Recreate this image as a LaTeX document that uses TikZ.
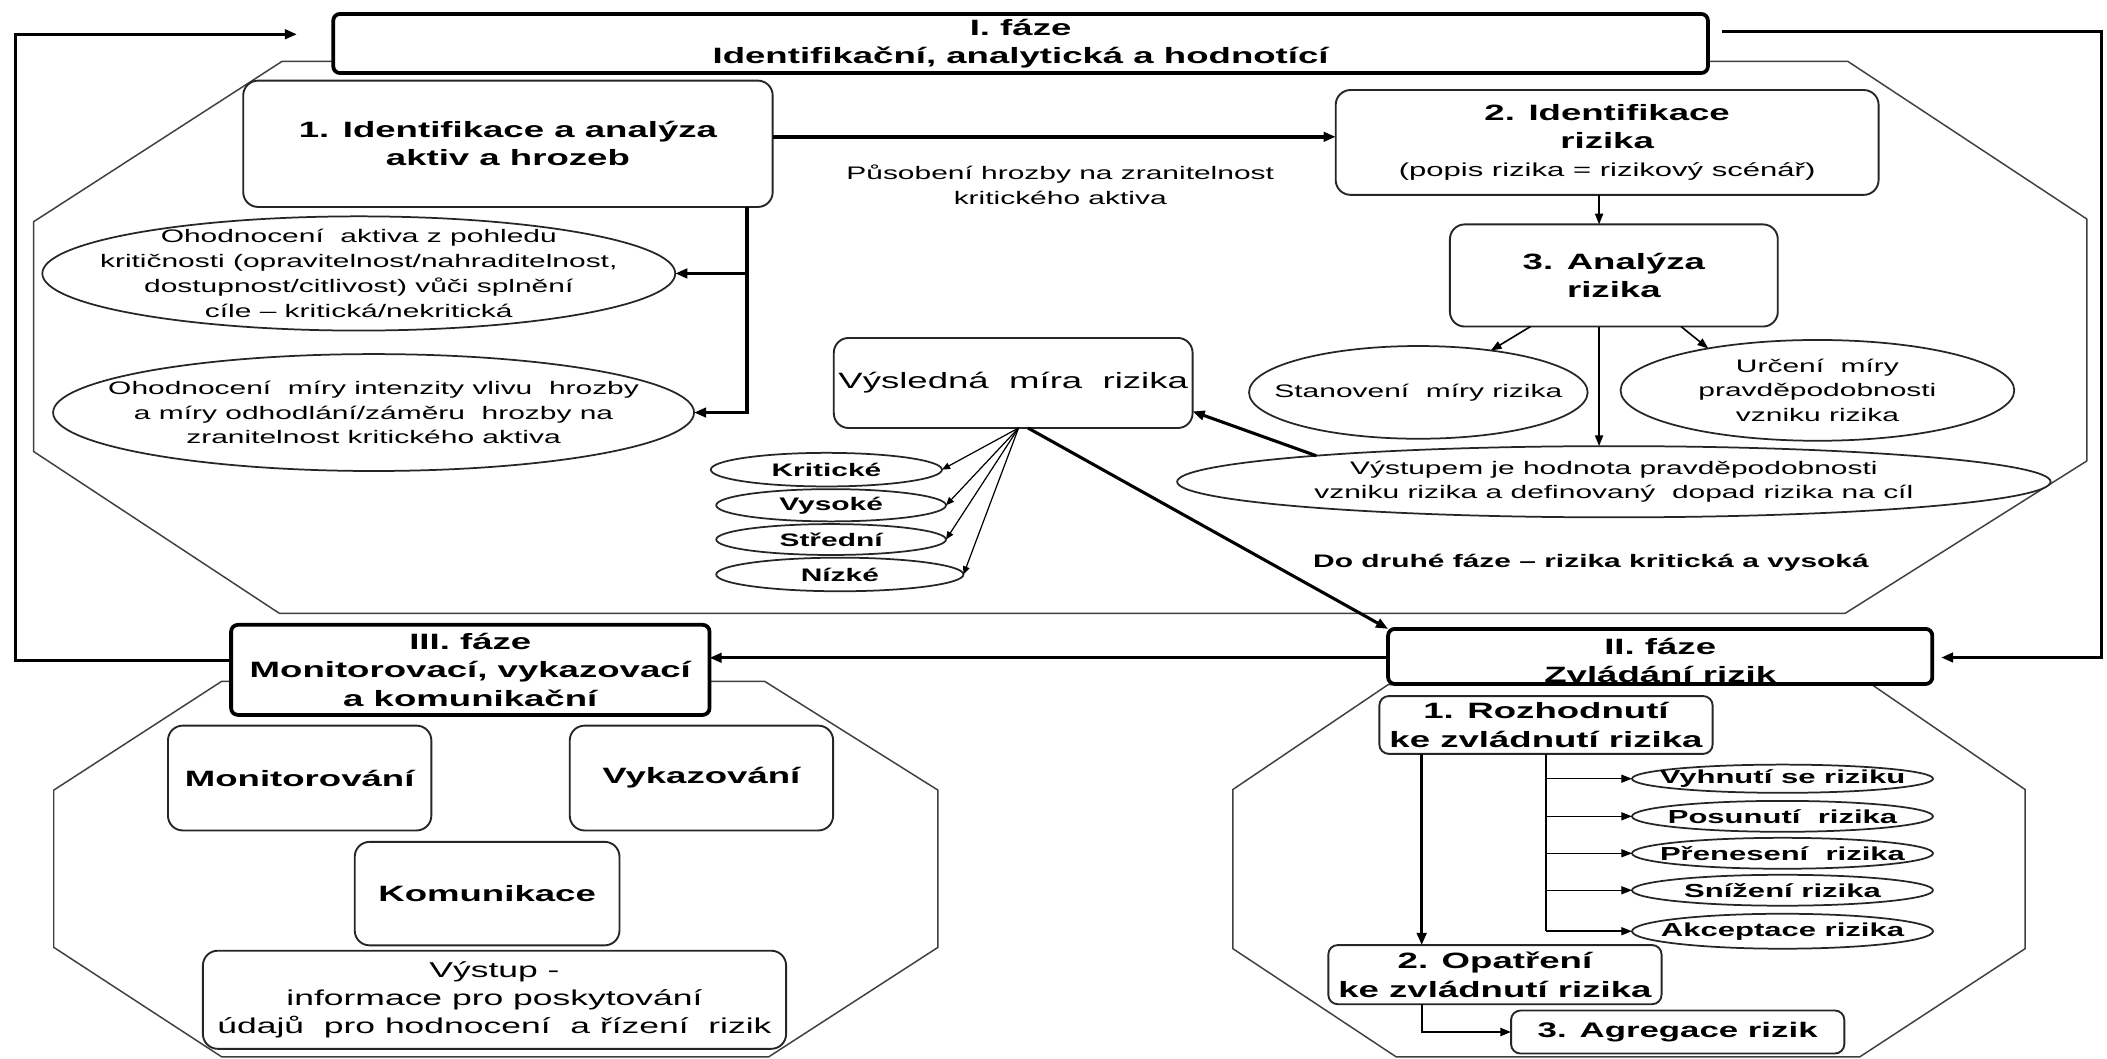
\documentclass[tikz,border=0pt]{standalone}
\usepackage{fontspec}
\setmainfont{Liberation Sans}[FakeStretch=1.65]
\usetikzlibrary{arrows.meta,shapes.geometric,calc}
\newcommand\fTitle{\fontsize{16.5}{21}\selectfont\bfseries}
\newcommand\fNorm{\fontsize{13.5}{18.5}\selectfont}
\newcommand\fNormB{\fontsize{13.5}{18.5}\selectfont\bfseries}
\newcommand\fOpt{\fontsize{14}{17}\selectfont\bfseries}
\begin{document}
\begin{tikzpicture}[x=1pt,y=-1pt,
  every node/.style={inner sep=0pt,outer sep=0pt,text=black},
  phasebox/.style={draw=black,line width=2.8pt,rounded corners=5pt,fill=white,align=center,font=\fTitle},
  innerbox/.style={draw=black!85,line width=1.4pt,rounded corners=11pt,fill=white,align=center},
  oval/.style={draw=black!85,line width=1.3pt,ellipse,fill=white},
  ltxt/.style={align=center,font=\fNorm},
  ltxtb/.style={align=center,font=\fNormB},
  otxt/.style={align=center,font=\fOpt},
  oct/.style={draw=black!75,line width=1.1pt},
  fb/.style={line width=2.4pt,-{Triangle[length=9pt,width=7pt]}},
  thk/.style={line width=2.6pt,-{Triangle[length=9pt,width=7pt]}},
  arr/.style={line width=1.2pt,-{Triangle[length=8pt,width=6pt]}},
  fan/.style={line width=0.9pt,-{Triangle[length=6pt,width=5pt]}}
]
\useasboundingbox[fill=white] (0,0) rectangle (1568,788);

% octagons
\draw[oct] (210,45.6) -- (25,165) -- (25,336) -- (208,456.5) -- (1373,456.5) -- (1553,343) -- (1553,163) -- (1375,45.6) -- cycle;
\draw[oct] (165,507) -- (40,588) -- (40,705) -- (165,786.5) -- (572,786.5) -- (698,705) -- (698,588) -- (569,507) -- cycle;
\draw[oct] (1033,509.5) -- (917.5,587.5) -- (917.5,706) -- (1039,786.5) -- (1384,786.5) -- (1507,706) -- (1507,587.5) -- (1393,509.5) -- cycle;

% phase boxes
\node[phasebox,minimum width=1023pt,minimum height=44pt] (T) at (759.5,32.35) {I. fáze\\Identifikační, analytická a hodnotící};
\node[phasebox,minimum width=356pt,minimum height=67pt] (III) at (350,498.5) {III. fáze\\Monitorovací, vykazovací\\a komunikační};
\node[phasebox,minimum width=405pt,minimum height=41pt] (II) at (1235.5,488.5) {};
\node[align=center,font=\fTitle] (IIt) at (1235.5,491.5) {II. fáze\\Zvládání rizik};

% phase I content
\node[innerbox,minimum width=394pt,minimum height=94pt,font=\fTitle] (B1) at (378,107) {1. Identifikace a analýza\\aktiv a hrozeb};
\node[innerbox,minimum width=404pt,minimum height=78pt,font=\fTitle] (B2) at (1196,106) {2. Identifikace\\rizika\\\fontsize{14}{19}\selectfont\mdseries (popis rizika = rizikový scénář)};
\node[innerbox,minimum width=244pt,minimum height=76pt,font=\fTitle] (B3) at (1201,205) {3. Analýza\\rizika};
\node[ltxt] (lbl1) at (789,137.5) {Působení hrozby na zranitelnost\\kritického aktiva};
\node[oval,minimum width=471pt,minimum height=85pt,label={[ltxt]center:{Ohodnocení\ \ aktiva z pohledu\\kritičnosti (opravitelnost/nahraditelnost,\\dostupnost/citlivost) vůči splnění\\cíle – kritická/nekritická}}] (E1) at (267,203.5) {};
\node[oval,minimum width=477pt,minimum height=87pt,label={[ltxt]center:{Ohodnocení\ \ míry intenzity vlivu\ \ hrozby\\a míry odhodlání/záměru\ \ hrozby na\\zranitelnost kritického aktiva}}] (E2) at (278,307) {};
\node[innerbox,minimum width=267pt,minimum height=67pt,font=\fontsize{16.5}{21}\selectfont] (VM) at (754,285) {Výsledná\ \ míra\ \ rizika};
\node[oval,minimum width=172pt,minimum height=25pt,label={[ltxtb]center:Kritické}] (K) at (615,349.5) {};
\node[oval,minimum width=171pt,minimum height=24pt,label={[ltxtb]center:Vysoké}] (V) at (618.5,376) {};
\node[oval,minimum width=171pt,minimum height=23pt,label={[ltxtb]center:Střední}] (S) at (618.5,401.5) {};
\node[oval,minimum width=184pt,minimum height=25pt,label={[ltxtb]center:Nízké}] (N) at (625,427.5) {};
\node[oval,minimum width=252pt,minimum height=69pt,label={[ltxt]center:{Stanovení\ \ míry rizika}}] (St) at (1055.5,292) {};
\node[oval,minimum width=293pt,minimum height=75pt,label={[ltxt]center:{Určení\ \ míry\\pravděpodobnosti\\vzniku rizika}}] (Ur) at (1352.5,290.5) {};
\node[oval,minimum width=650pt,minimum height=53pt,label={[ltxt]center:{Výstupem je hodnota pravděpodobnosti\\vzniku rizika a definovaný\ \ dopad rizika na cíl}}] (Vy) at (1201,358.5) {};
\node[ltxtb] (lbl2) at (1184,418.5) {Do druhé fáze – rizika kritická a vysoká};

% phase III content
\node[innerbox,minimum width=196pt,minimum height=78pt,font=\fTitle] (Mon) at (223,579) {Monitorování};
\node[innerbox,minimum width=196pt,minimum height=78pt,font=\fTitle] (Vyk) at (522,579) {Vykazování};
\node[innerbox,minimum width=197pt,minimum height=77pt,font=\fTitle] (Kom) at (362.5,665) {Komunikace};
\node[innerbox,minimum width=434pt,minimum height=73pt,font=\fontsize{16}{21}\selectfont] (Out) at (368,744) {Výstup -\\informace pro poskytování\\údajů\ \ pro hodnocení\ \ a řízení\ \ rizik};

% phase II content
\node[innerbox,rounded corners=7pt,minimum width=248pt,minimum height=43pt,font=\fontsize{16.5}{22}\selectfont\bfseries] (R1) at (1150.5,539.5) {1. Rozhodnutí\\ke zvládnutí rizika};
\node[innerbox,rounded corners=7pt,minimum width=248pt,minimum height=44pt,font=\fontsize{16.5}{22}\selectfont\bfseries] (R2) at (1112.5,725.3) {2. Opatření\\ke zvládnutí rizika};
\node[innerbox,rounded corners=7pt,minimum width=248pt,minimum height=32pt,font=\fontsize{15.7}{20}\selectfont\bfseries] (AG) at (1248.5,768) {3. Agregace rizik};
\node[oval,minimum width=224pt,minimum height=21pt,label={[otxt]center:Vyhnutí se riziku}] (O1) at (1326.5,579.5) {};
\node[oval,minimum width=224pt,minimum height=23pt,label={[otxt]center:Posunutí\ \ rizika}] (O2) at (1326.5,607.5) {};
\node[oval,minimum width=224pt,minimum height=23pt,label={[otxt]center:Přenesení\ \ rizika}] (O3) at (1326.5,635) {};
\node[oval,minimum width=224pt,minimum height=23pt,label={[otxt]center:Snížení rizika}] (O4) at (1326.5,662.5) {};
\node[oval,minimum width=224pt,minimum height=26pt,label={[otxt]center:Akceptace rizika}] (O5) at (1326.5,693) {};

% feedback loops
\coordinate (LL) at (11.3,491.5);
\coordinate (LT) at (11.3,25.5);
\draw[fb] ($(III.west)+(0,-7)$) -- (LL) -- (LT) -- ($(T.west)+(-27,-6.85)$);
\coordinate (RT) at (1564,23.5);
\coordinate (RB) at (1564,489.3);
\draw[fb] ($(T.east)+(10.5,-8.85)$) -- (RT) -- (RB) -- ($(II.east)+(6.5,0.8)$);
\draw[fb] ($(II.west)+(0,1)$) -- ($(III.east)+(0,-9)$);

% phase I connectors
\draw[thk] ($(B1.east)+(0,-5.2)$) coordinate (p1) -- (p1 -| B2.west);
\coordinate (v0) at ($(B1.south east)+(-19,0)$);
\draw[thk] (v0) |- (E2.east);
\draw[thk] (v0 |- E1.east) -- (E1.east);
\draw[arr] ($(B2.south)+(-6,0)$) coordinate (p3) -- (p3 |- B3.north);
\draw[arr] ($(B3.south)+(-62,0)$) -- (St.30);
\draw[arr] ($(B3.south)+(50,0)$) -- (Ur.159);
\draw[arr] ($(B3.south)+(-11,0)$) coordinate (p2) -- (p2 |- Vy.north);
\draw[thk,line width=2.3pt] (Vy.175) -- (VM.-9);
\coordinate (fan0) at ($(VM.south)+(4,0)$);
\foreach \e in {K,V,S,N} \draw[fan] (fan0) -- (\e.east);
\draw[thk,line width=2.3pt] ($(VM.south)+(11,0)$) -- (II.north west);

% phase II connectors
\coordinate (v1) at ($(R1.south west)+(31.5,0)$);
\draw[thk] (v1) -- (v1 |- R2.north);
\draw[line width=1.1pt] (R1.south) -- (R1.south |- O5.west);
\foreach \o in {O1,O2,O3,O4,O5} \draw[arr,line width=1.1pt] (R1.south |- \o.west) -- (\o.west);
\coordinate (v2) at ($(R2.south west)+(70,0)$);
\draw[arr,line width=1.6pt] (v2) |- (AG.west);
\end{tikzpicture}
\end{document}
